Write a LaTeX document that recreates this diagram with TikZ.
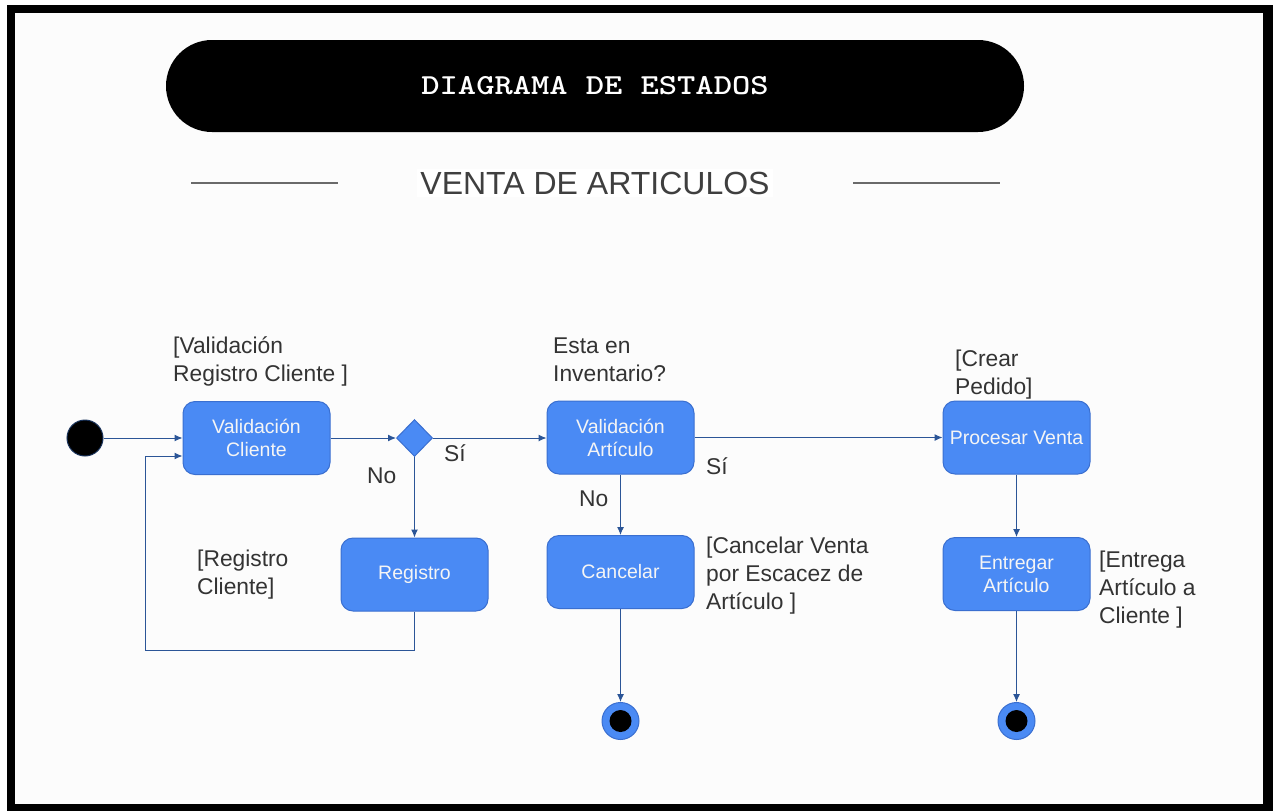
\documentclass[tikz,border=0pt]{standalone}
\usepackage{fontspec}
\setmainfont{Liberation Sans}
\newfontfamily\titlefont{lmmonolt10-bold.otf}
\usetikzlibrary{arrows.meta,shapes.geometric}

\definecolor{boxfill}{HTML}{4A8AF4}
\definecolor{boxdraw}{HTML}{3A6FD0}
\definecolor{edgecol}{HTML}{2B5597}
\definecolor{labcol}{HTML}{333333}
\definecolor{bgcol}{HTML}{FCFCFC}
\definecolor{subcol}{HTML}{3F3F3F}
\definecolor{rulecol}{HTML}{6A6A6A}

\begin{document}
\begin{tikzpicture}[x=1pt,y=-1pt,
  statebox/.style={rectangle, rounded corners=12pt, fill=boxfill, draw=boxdraw,
    line width=1pt, minimum width=147pt, minimum height=73pt, text=white!96!black,
    align=center, font=\fontsize{19.5}{23}\selectfont, inner sep=2pt},
  lab/.style={text=labcol, align=left, font=\fontsize{22.8}{28}\selectfont,
    anchor=base west, inner sep=0pt},
  conn/.style={draw=edgecol, line width=1pt, -{Latex[length=8pt,width=7pt]}},
  finalst/.style={circle, fill=boxfill, draw=boxdraw, line width=1pt,
    minimum size=37pt, inner sep=0pt},
]
% frame and background
\useasboundingbox (0,0) rectangle (1273,811);
\fill[white] (0,0) rectangle (1273,811);
\fill[black] (7,5) rectangle (1273,811);
\fill[bgcol] (15,13) rectangle (1263,804);

% title
\node[rectangle, rounded corners=46pt, fill=black, minimum width=858pt,
  minimum height=92pt, inner sep=0pt, text=white,
  font=\titlefont\fontsize{29}{33}\selectfont] (title) at (595,86)
  {\scalebox{1.2}[1]{DIAGRAMA DE ESTADOS}};

% subtitle
\node[fill=white, text=subcol, inner sep=3pt,
  font=\fontsize{32}{36}\selectfont] (sub) at (595,183) {VENTA DE ARTICULOS};
\draw[rulecol, line width=2pt] (191,183) -- (338,183);
\draw[rulecol, line width=2pt] (853,183) -- (1000,183);

% nodes
\node[circle, fill=black, draw=edgecol!60!black, line width=1pt,
  minimum size=36pt, inner sep=0pt] (init) at (85,438) {};
\node[statebox] (vc) at (256.5,438) {Validación\\Cliente};
\node[diamond, fill=boxfill, draw=boxdraw, line width=1pt, minimum width=36pt,
  minimum height=37pt, inner sep=0pt] (dec) at (414.5,438) {};
\node[statebox] (reg) at (414.5,574.5) {Registro};
\node[statebox] (va) at (620.5,437.5) {Validación\\Artículo};
\node[statebox] (can) at (620.5,572) {Cancelar};
\node[statebox] (proc) at (1016.5,437.5) {Procesar Venta};
\node[statebox] (ent) at (1016.5,574) {Entregar\\Artículo};
\node[finalst] (f1) at (620.5,721) {};
\node[finalst] (f2) at (1016.5,721) {};
\fill[black] (f1.center) circle (11);
\fill[black] (f2.center) circle (11);

% connectors
\coordinate (loop) at (145,650);
\coordinate (vcin) at ([yshift=-18pt]vc.west);
\draw[conn] (init) -- (vc);
\draw[conn] (vc) -- (dec);
\draw[conn] (dec.east) -- (dec.east -| va.west);
\draw[conn] (dec) -- (reg);
\draw[conn] (reg.south) |- (loop) |- (vcin);
\draw[conn] (va) -- (proc);
\draw[conn] (va) -- (can);
\draw[conn] (can) -- (f1);
\draw[conn] (proc) -- (ent);
\draw[conn] (ent) -- (f2);

% labels (anchor = baseline of last line)
\node[lab] (l1) at (173,381) {[Validación\\Registro Cliente ]};
\node[lab] (l2) at (553,381) {Esta en\\Inventario?};
\node[lab] (l3) at (955,394) {[Crear\\Pedido]};
\node[lab] (l4) at (197,594) {[Registro\\Cliente]};
\node[lab] (l5) at (706,609) {[Cancelar Venta\\por Escacez de\\Artículo ]};
\node[lab] (l6) at (1099,623) {[Entrega\\Artículo a\\Cliente ]};
\node[lab] (no1) at (367,483) {No};
\node[lab] (si1) at (444,461) {Sí};
\node[lab] (si2) at (706,474) {Sí};
\node[lab] (no2) at (579,506) {No};
\end{tikzpicture}
\end{document}
